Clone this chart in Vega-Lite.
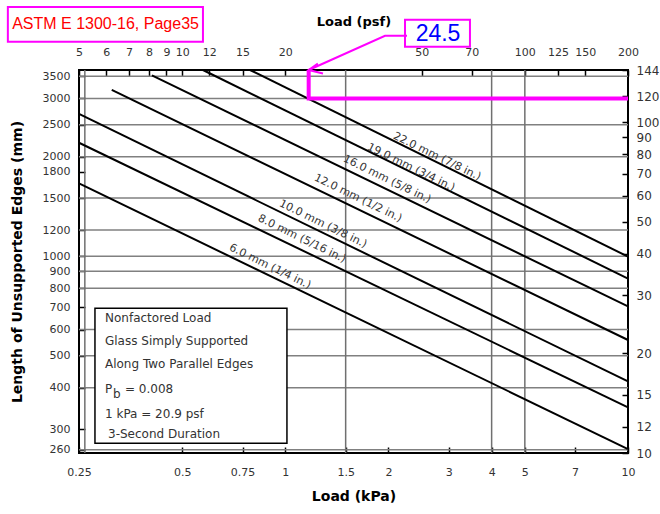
{
  "$schema": "https://vega.github.io/schema/vega-lite/v6.json",
  "width": 549,
  "height": 383,
  "autosize": {"type": "none"},
  "padding": {"left": 79, "top": 70, "right": 32, "bottom": 61},
  "background": "white",
  "config": {
    "view": {"stroke": "#000", "strokeWidth": 2},
    "axis": {
      "domain": false, "grid": false, "ticks": true, "tickSize": -6, "tickColor": "#000", "tickWidth": 1.5,
      "labelFont": "DejaVu Sans", "labelFontSize": 11, "labelColor": "#333",
      "labelOverlap": false, "labelFlush": false, "labelBound": false,
      "titleFont": "DejaVu Sans", "titleFontWeight": "bold", "titleFontSize": 14, "titleColor": "#000"
    }
  },
  "layer": [
    {
      "encoding": {
        "x": {"field": "kpa", "type": "quantitative",
          "scale": {"type": "log", "domain": [0.25, 10], "nice": false},
          "axis": {"orient": "bottom", "values": [0.25, 0.5, 0.75, 1, 1.5, 2, 3, 4, 5, 7, 10], "format": "~g",
            "title": "Load (kPa)", "labelPadding": 19, "titlePadding": 12}},
        "y": {"field": "mm", "type": "quantitative",
          "scale": {"type": "log", "domain": [254, 3658], "nice": false},
          "axis": {"orient": "left", "values": [260, 300, 400, 500, 600, 700, 800, 900, 1000, 1200, 1500, 1800, 2000, 2500, 3000, 3500], "format": "~g",
            "title": "Length of Unsupported Edges (mm)", "labelPadding": 15, "titlePadding": 18}}
      },
      "layer": [
        {
          "data": {"values": [
            {"mm": 3500, "kpa": 0.25, "kpa2": 10}, {"mm": 3000, "kpa": 0.25, "kpa2": 10},
            {"mm": 2500, "kpa": 0.25, "kpa2": 10}, {"mm": 2000, "kpa": 0.25, "kpa2": 10},
            {"mm": 1500, "kpa": 0.25, "kpa2": 10}, {"mm": 1200, "kpa": 0.25, "kpa2": 10},
            {"mm": 1000, "kpa": 0.25, "kpa2": 10}, {"mm": 900, "kpa": 0.25, "kpa2": 10},
            {"mm": 800, "kpa": 0.25, "kpa2": 10}, {"mm": 600, "kpa": 0.25, "kpa2": 10},
            {"mm": 500, "kpa": 0.25, "kpa2": 10}, {"mm": 400, "kpa": 0.25, "kpa2": 10},
            {"mm": 260, "kpa": 0.25, "kpa2": 10}
          ]},
          "mark": {"type": "rule", "stroke": "#808080", "strokeWidth": 1.5},
          "encoding": {"x2": {"field": "kpa2"}}
        },
        {
          "data": {"values": [
            {"kpa": 0.26, "mm": 254, "mm2": 3658}, {"kpa": 1.5, "mm": 254, "mm2": 3658},
            {"kpa": 4, "mm": 254, "mm2": 3658}, {"kpa": 5, "mm": 254, "mm2": 3658}
          ]},
          "mark": {"type": "rule", "stroke": "#707070", "strokeWidth": 1.5},
          "encoding": {"y2": {"field": "mm2"}}
        },
        {
          "data": {"values": [
            {"s": "22", "kpa": 0.789, "mm": 3658}, {"s": "22", "kpa": 10, "mm": 997},
            {"s": "19", "kpa": 0.575, "mm": 3658}, {"s": "19", "kpa": 10, "mm": 856},
            {"s": "16", "kpa": 0.408, "mm": 3524}, {"s": "16", "kpa": 10, "mm": 705},
            {"s": "12", "kpa": 0.3115, "mm": 3183}, {"s": "12", "kpa": 10, "mm": 558},
            {"s": "10", "kpa": 0.25, "mm": 2693}, {"s": "10", "kpa": 10, "mm": 418},
            {"s": "8", "kpa": 0.25, "mm": 2204}, {"s": "8", "kpa": 10, "mm": 349},
            {"s": "6", "kpa": 0.25, "mm": 1660}, {"s": "6", "kpa": 10, "mm": 261}
          ]},
          "mark": {"type": "line", "stroke": "#000", "strokeWidth": 2},
          "encoding": {"detail": {"field": "s"}}
        },
        {
          "data": {"values": [
            {"o": 1, "kpa": 1.17, "mm": 3658}, {"o": 2, "kpa": 1.17, "mm": 3000}, {"o": 3, "kpa": 10, "mm": 3000}
          ]},
          "mark": {"type": "line", "stroke": "#ff00ff", "strokeWidth": 4, "strokeCap": "butt"},
          "encoding": {"order": {"field": "o"}}
        },
        {
          "data": {"values": [
            {"g": "shaft", "o": 1, "kpa": 2.265, "mm": 4643}, {"g": "shaft", "o": 2, "kpa": 1.954, "mm": 4643}, {"g": "shaft", "o": 3, "kpa": 1.17, "mm": 3658},
            {"g": "head", "o": 1, "kpa": 1.288, "mm": 3569}, {"g": "head", "o": 2, "kpa": 1.17, "mm": 3658}, {"g": "head", "o": 3, "kpa": 1.2445, "mm": 3823}
          ]},
          "mark": {"type": "line", "stroke": "#ff00ff", "strokeWidth": 2},
          "encoding": {"detail": {"field": "g"}, "order": {"field": "o"}}
        },
        {
          "data": {"values": [{"kpa": 0.2783, "kpa2": 1.011, "mm": 696, "mm2": 272}]},
          "mark": {"type": "rect", "fill": "#fff", "stroke": "#000", "strokeWidth": 1.5},
          "encoding": {"x2": {"field": "kpa2"}, "y2": {"field": "mm2"}}
        },
        {
          "data": {"values": [
            {"t": "Nonfactored Load", "kpa": 0.2977, "mm": 650.8},
            {"t": "Glass Simply Supported", "kpa": 0.2977, "mm": 554},
            {"t": "Along Two Parallel Edges", "kpa": 0.2977, "mm": 473.7},
            {"t": "P", "kpa": 0.2977, "mm": 397},
            {"t": "b", "kpa": 0.3143, "mm": 384.3},
            {"t": "= 0.008", "kpa": 0.3405, "mm": 397},
            {"t": "1 kPa = 20.9 psf", "kpa": 0.2977, "mm": 334},
            {"t": "3-Second Duration", "kpa": 0.3038, "mm": 289.5}
          ]},
          "mark": {"type": "text", "align": "left", "baseline": "middle", "font": "DejaVu Sans", "fontSize": 12, "fill": "#333"},
          "encoding": {"text": {"field": "t"}}
        },
        {
          "data": {"values": [
            {"t": "22.0 mm (7/8 in.)", "kpa": 2.77, "mm": 2001},
            {"t": "19.0 mm (3/4 in.)", "kpa": 2.327, "mm": 1854},
            {"t": "16.0 mm (5/8 in.)", "kpa": 1.98, "mm": 1707},
            {"t": "12.0 mm (1/2 in.)", "kpa": 1.63, "mm": 1497},
            {"t": "10.0 mm (3/8 in.)", "kpa": 1.288, "mm": 1251},
            {"t": "8.0 mm (5/16 in.)", "kpa": 1.118, "mm": 1128},
            {"t": "6.0 mm (1/4 in.)", "kpa": 0.902, "mm": 930}
          ]},
          "mark": {"type": "text", "align": "center", "baseline": "middle", "angle": 26, "font": "DejaVu Sans", "fontSize": 11, "fill": "#333"},
          "encoding": {"text": {"field": "t"}}
        },
        {
          "data": {"values": [
            {"kpa": 0.155, "kpa2": 0.575, "mm": 5673, "mm2": 4456},
            {"kpa": 2.235, "kpa2": 3.458, "mm": 5187, "mm2": 4303}
          ]},
          "mark": {"type": "rect", "filled": false, "stroke": "#ff00ff", "strokeWidth": 2},
          "encoding": {"x2": {"field": "kpa2"}, "y2": {"field": "mm2"}}
        },
        {
          "data": {"values": [{"t": "ASTM E 1300-16, Page35", "kpa": 0.2988, "mm": 5045}]},
          "mark": {"type": "text", "align": "center", "baseline": "middle", "font": "Liberation Sans", "fontSize": 16, "fill": "#ff0000"},
          "encoding": {"text": {"field": "t"}}
        },
        {
          "data": {"values": [{"t": "24.5", "kpa": 2.79, "mm": 4710}]},
          "mark": {"type": "text", "align": "center", "baseline": "middle", "font": "Liberation Sans", "fontSize": 23, "fill": "#0000ff"},
          "encoding": {"text": {"field": "t"}}
        }
      ]
    },
    {
      "data": {"values": [{"psf": 5, "inch": 10}, {"psf": 200, "inch": 144}]},
      "mark": {"type": "point", "opacity": 0},
      "encoding": {
        "x": {"field": "psf", "type": "quantitative",
          "scale": {"type": "log", "domain": [5, 200], "nice": false},
          "axis": {"orient": "top", "values": [5, 6, 7, 8, 9, 10, 12, 15, 20, 50, 70, 100, 125, 150, 200], "format": "~g",
            "title": "Load (psf)", "titleFontSize": 13, "labelPadding": 19, "titlePadding": 18}},
        "y": {"field": "inch", "type": "quantitative",
          "scale": {"type": "log", "domain": [10, 144], "nice": false},
          "axis": {"orient": "right", "values": [10, 12, 15, 20, 30, 40, 50, 60, 70, 80, 90, 100, 120, 144], "format": "~g",
            "title": null, "labelPadding": 14, "labelFontSize": 12}}
      }
    }
  ],
  "resolve": {"scale": {"x": "independent", "y": "independent"}, "axis": {"x": "independent", "y": "independent"}}
}
